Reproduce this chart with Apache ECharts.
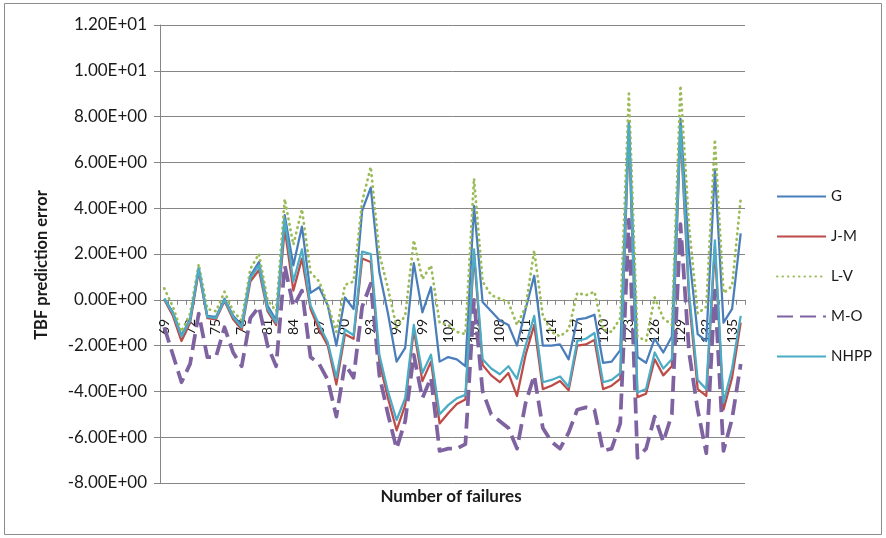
<!DOCTYPE html>
<html>
<head>
<meta charset="utf-8">
<script src="https://cdn.jsdelivr.net/npm/echarts@6/dist/echarts.min.js"></script>
<style>
  html, body { margin: 0; padding: 0; background: #fff; }
  #chart { width: 886px; height: 538px; }
</style>
</head>
<body>
<div id="chart"></div>
<script>
// Failure numbers 69..136
const failures = [];
for (let n = 69; n <= 136; n++) failures.push(String(n));

const seriesNames = ['G', 'J-M', 'L-V', 'M-O', 'NHPP'];

const gValues = [
  0.05, -0.55, -1.55, -0.85, 1.4, -0.7, -0.75, 0.05, -0.7, -1.1, 1.05, 1.65, -0.25, -0.9, 3.7, 1.5, 3.2,
  0.3, 0.55, -0.25, -2.0, 0.1, -0.4, 3.9, 4.9, 1.2, -0.6, -2.7, -2.1, 1.6, -0.55, 0.55, -2.7, -2.5, -2.6, -2.9,
  4.1, -0.1, -0.5, -0.9, -1.1, -2.0, -0.4, 1.05, -2.0, -2.0, -1.95, -2.6, -0.85, -0.8, -0.65, -2.75, -2.7, -2.2,
  7.8, -2.5, -2.75, -1.7, -2.3, -1.6, 7.9, 2.0, -1.5, -1.8, 5.7, -1.0, -0.4, 2.9
];
const jmValues = [
  0.0, -0.7, -1.8, -1.0, 1.25, -0.8, -0.85, -0.05, -0.85, -1.3, 0.8, 1.3, -0.5, -1.1, 3.1, 0.4, 1.8,
  -0.4, -1.3, -2.0, -3.7, -1.5, -1.7, 1.8, 1.65, -2.7, -4.3, -5.7, -4.6, -1.3, -3.55, -2.7, -5.4, -4.95, -4.55, -4.35,
  2.0, -2.85, -3.3, -3.6, -3.2, -4.2, -2.4, -1.1, -3.9, -3.75, -3.55, -3.95, -2.0, -1.95, -1.75, -3.9, -3.75, -3.45,
  7.4, -4.25, -4.1, -2.6, -3.3, -2.9, 7.4, 0.0, -3.9, -4.2, 2.3, -4.8, -3.4, -1.0
];
const lvValues = [
  0.5, -0.3, -1.4, -0.6, 1.55, -0.4, -0.5, 0.35, -0.5, -0.9, 1.35, 2.0, 0.0, -0.5, 4.4, 2.4, 3.95,
  1.2, 0.8, -0.2, -1.4, 0.65, 0.8, 4.3, 5.8, 2.0, 0.5, -1.2, -0.7, 2.6, 0.9, 1.5, -1.0, -1.1, -1.4, -1.5,
  5.3, 0.8, 0.2, 0.05, -0.1, -1.1, -0.3, 2.15, -0.7, -1.4, -1.6, -1.3, 0.3, 0.2, 0.35, -1.3, -1.4, -0.8,
  9.0, -1.6, -1.8, 0.1, -0.8, -1.1, 9.35, 3.2, -0.6, -0.3, 7.0, 0.3, 0.6, 4.4
];
const moValues = [
  -1.2, -2.4, -3.6, -2.8, -0.6, -2.5, -2.5, -1.2, -2.3, -2.9, -0.8, -0.3, -2.0, -2.9, 1.5, -0.3, 0.4,
  -2.5, -2.8, -3.5, -5.1, -2.8, -3.4, -0.3, 0.7, -3.3, -5.0, -6.5, -5.3, -2.4, -4.3, -3.4, -6.6, -6.5, -6.5, -6.3,
  0.0, -4.0, -5.0, -5.3, -5.6, -6.5, -4.5, -3.3, -5.6, -6.2, -6.5, -5.8, -4.8, -4.7, -4.8, -6.6, -6.5, -5.4,
  3.5, -6.9, -6.5, -5.1, -6.2, -5.0, 3.3, -2.3, -4.8, -6.7, 0.4, -6.6, -5.2, -2.8
];
const nhppValues = [
  0.05, -0.6, -1.6, -0.9, 1.35, -0.75, -0.8, 0.0, -0.75, -1.2, 0.95, 1.5, -0.4, -1.0, 3.5, 0.8, 2.2,
  -0.25, -1.1, -1.85, -3.4, -1.3, -1.55, 2.1, 2.0, -2.4, -4.0, -5.25, -4.3, -1.1, -3.2, -2.4, -5.0, -4.6, -4.3, -4.15,
  2.2, -2.6, -3.0, -3.25, -2.9, -3.45, -2.0, -0.7, -3.6, -3.5, -3.35, -3.8, -1.8, -1.7, -1.45, -3.6, -3.5, -3.2,
  7.65, -4.05, -3.9, -2.3, -3.0, -2.6, 7.6, 0.3, -3.5, -3.9, 2.6, -4.5, -3.0, -0.7
];

// Y axis range and step
const yMin = -8, yMax = 12, yStep = 2;

const W = 886, H = 538;
const GRID = { left: 160, right: 141, top: 25, bottom: 55 };
// The category axis crosses the value axis at zero
const plotH = H - GRID.top - GRID.bottom;
const zeroY = GRID.top + (yMax / (yMax - yMin)) * plotH;
const xAxisOffset = -((H - GRID.bottom) - zeroY);

const FONT = 'Lato, "Open Sans", sans-serif';
const AXIS_GRAY = '#868686';
const TEXT = '#1a1a1a';

// Excel-style scientific notation: 1.20E+01
function sci(v) {
  const s = Number(v).toExponential(2).toUpperCase();
  return s.replace(/E([+-])(\d)$/, 'E$10$2');
}

const chart = echarts.init(document.getElementById('chart'), null, { renderer: 'canvas' });

const styles = [
  { color: '#4A7EBB', width: 2.25, type: 'solid' },
  { color: '#BE4B48', width: 2.25, type: 'solid' },
  { color: '#9BBB59', width: 2.75, type: [0.5, 5], cap: 'round' },
  { color: '#7F63A1', width: 3.75, type: [16, 7], cap: 'butt' },
  { color: '#4BACC6', width: 2.25, type: 'solid' }
];
const valueSets = [gValues, jmValues, lvValues, moValues, nhppValues];

chart.setOption({
  animation: false,
  backgroundColor: '#ffffff',
  grid: Object.assign({ containLabel: false }, GRID),
  legend: {
    orient: 'vertical',
    left: 771,
    top: 184,
    itemWidth: 49,
    itemHeight: 14,
    itemGap: 25,
    itemStyle: { opacity: 0 },
    textStyle: { fontFamily: FONT, fontSize: 15, color: TEXT },
    data: seriesNames
  },
  xAxis: {
    type: 'category',
    data: failures,
    boundaryGap: true,
    position: 'bottom',
    offset: xAxisOffset,
    axisLine: { onZero: false, lineStyle: { color: AXIS_GRAY, width: 1 } },
    axisTick: { show: true, interval: 0, length: 5, lineStyle: { color: AXIS_GRAY } },
    axisLabel: {
      interval: 2,
      rotate: 90,
      margin: 19,
      fontFamily: FONT,
      fontSize: 14,
      color: TEXT
    },
    splitLine: { show: false }
  },
  yAxis: {
    type: 'value',
    min: yMin,
    max: yMax,
    interval: yStep,
    axisLine: { show: true, lineStyle: { color: AXIS_GRAY, width: 1 } },
    axisTick: { show: true, length: 6, lineStyle: { color: AXIS_GRAY } },
    axisLabel: {
      margin: 13,
      fontFamily: FONT,
      fontSize: 17,
      color: TEXT,
      formatter: sci
    },
    splitLine: { show: true, lineStyle: { color: AXIS_GRAY, width: 1 } }
  },
  series: seriesNames.map((name, i) => ({
    name,
    type: 'line',
    data: valueSets[i],
    symbol: 'none',
    showSymbol: false,
    smooth: false,
    lineStyle: {
      color: styles[i].color,
      width: styles[i].width,
      type: styles[i].type,
      cap: styles[i].cap || 'butt',
      join: 'round'
    },
    itemStyle: { color: styles[i].color },
    z: 2 + i
  })),
  graphic: [
    {
      type: 'rect',
      shape: { x: 4.5, y: 3.5, width: 877, height: 531 },
      style: { fill: 'none', stroke: '#8c8c8c', lineWidth: 1 },
      silent: true,
      z: -1
    },
    {
      type: 'text',
      x: 451,
      y: 497,
      style: {
        text: 'Number of failures',
        fontFamily: FONT,
        fontWeight: 'bold',
        fontSize: 17,
        fill: TEXT,
        align: 'center',
        verticalAlign: 'middle'
      }
    },
    {
      type: 'text',
      x: 42,
      y: 265,
      rotation: Math.PI / 2,
      style: {
        text: 'TBF prediction error',
        fontFamily: FONT,
        fontWeight: 'bold',
        fontSize: 16.5,
        fill: TEXT,
        align: 'center',
        verticalAlign: 'middle'
      }
    }
  ]
});
</script>
</body>
</html>
